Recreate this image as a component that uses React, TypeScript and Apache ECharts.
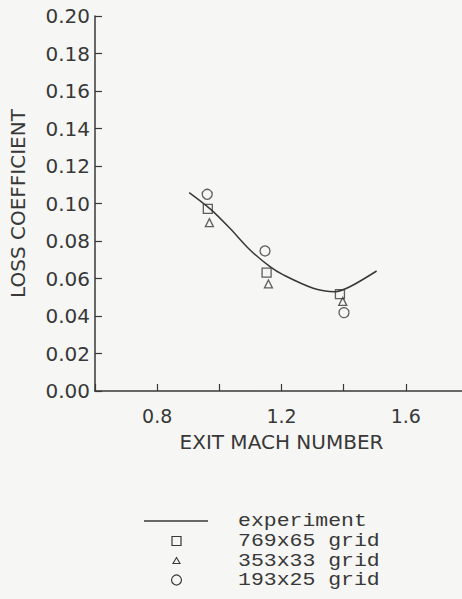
import React, { useEffect, useRef } from "react";
import * as echarts from "echarts";

const experimentMach = [0.903, 0.975, 1.034, 1.099, 1.163, 1.206, 1.302, 1.372, 1.42, 1.506];
const experimentLoss = [0.1058, 0.0965, 0.0868, 0.0752, 0.0663, 0.0619, 0.0548, 0.053, 0.0556, 0.064];

const gridFineMach = [0.963, 1.152, 1.388];
const gridFineLoss = [0.0971, 0.0631, 0.0517];

const gridMidMach = [0.968, 1.158, 1.397];
const gridMidLoss = [0.0898, 0.0571, 0.0478];

const gridCoarseMach = [0.961, 1.147, 1.401];
const gridCoarseLoss = [0.1049, 0.0747, 0.0418];

const xTickLabels = ["0.8", "1.2", "1.6"];
const legendLabels = ["experiment", "769x65 grid", "353x33 grid", "193x25 grid"];

const INK = "#383838";
const SANS = "DejaVu Sans";
const MONO = "Liberation Mono";

const zip = (xs: number[], ys: number[]) => xs.map((x, i) => [x, ys[i]]);

export default function App() {
  const ref = useRef<HTMLDivElement>(null);
  useEffect(() => {
    if (!ref.current) return;
    const chart = echarts.init(ref.current, null, { renderer: "svg" });
    const hollow = { color: "rgba(0,0,0,0)", borderColor: INK, borderWidth: 1.3 };
    const legendY = [521, 541, 561, 580];
    chart.setOption({
      animation: false,
      backgroundColor: "#f6f6f5",
      grid: { left: 95, right: -6, top: 16, bottom: 208, outerBoundsMode: "none" },
      xAxis: {
        type: "value",
        min: 0.6,
        max: 1.8,
        interval: 0.2,
        name: "EXIT MACH NUMBER",
        nameLocation: "middle",
        nameGap: 41,
        nameTextStyle: { fontFamily: SANS, fontSize: 20, color: INK },
        axisLine: { lineStyle: { color: INK, width: 1.5 } },
        axisTick: { inside: true, length: 7, lineStyle: { color: INK, width: 1.2 } },
        splitLine: { show: false },
        axisLabel: {
          margin: 15,
          fontFamily: SANS,
          fontSize: 19,
          color: INK,
          showMinLabel: true,
          showMaxLabel: true,
          formatter: (v: number) => {
            const s = v.toFixed(1);
            return xTickLabels.includes(s) ? s : "";
          },
        },
      },
      yAxis: {
        type: "value",
        min: 0,
        max: 0.2,
        interval: 0.02,
        name: "LOSS COEFFICIENT",
        nameLocation: "middle",
        nameGap: 67,
        nameTextStyle: { fontFamily: SANS, fontSize: 20, color: INK },
        axisLine: { show: true, lineStyle: { color: INK, width: 1.5 } },
        axisTick: { show: true, inside: true, length: 7, lineStyle: { color: INK, width: 1.2 } },
        splitLine: { show: false },
        axisLabel: {
          margin: 5,
          fontFamily: SANS,
          fontSize: 20,
          color: INK,
          formatter: (v: number) => v.toFixed(2),
        },
      },
      series: [
        {
          name: legendLabels[0],
          type: "line",
          smooth: 0.3,
          showSymbol: false,
          data: zip(experimentMach, experimentLoss),
          lineStyle: { color: INK, width: 1.5 },
        },
        {
          name: legendLabels[1],
          type: "scatter",
          symbol: "rect",
          symbolSize: 9,
          data: zip(gridFineMach, gridFineLoss),
          itemStyle: hollow,
        },
        {
          name: legendLabels[2],
          type: "scatter",
          symbol: "triangle",
          symbolSize: 8,
          data: zip(gridMidMach, gridMidLoss),
          itemStyle: hollow,
        },
        {
          name: legendLabels[3],
          type: "scatter",
          symbol: "circle",
          symbolSize: 10,
          data: zip(gridCoarseMach, gridCoarseLoss),
          itemStyle: hollow,
        },
      ],
      graphic: [
        {
          type: "line",
          shape: { x1: 144, y1: legendY[0], x2: 208, y2: legendY[0] },
          style: { stroke: INK, lineWidth: 1.5 },
        },
        {
          type: "rect",
          shape: { x: 172, y: legendY[1] - 4.5, width: 9, height: 9 },
          style: { fill: "none", stroke: INK, lineWidth: 1.2 },
        },
        {
          type: "polygon",
          shape: { points: [[176.5, legendY[2] - 3.5], [180, legendY[2] + 2.5], [173, legendY[2] + 2.5]] },
          style: { fill: "none", stroke: INK, lineWidth: 1.1 },
        },
        {
          type: "circle",
          shape: { cx: 176.5, cy: legendY[3], r: 5 },
          style: { fill: "none", stroke: INK, lineWidth: 1.2 },
        },
        ...legendLabels.map((t, i) => ({
          type: "text",
          x: 238,
          y: legendY[i],
          scaleX: 1.13,
          style: {
            text: t,
            fontFamily: MONO,
            fontSize: 19,
            fill: INK,
            verticalAlign: "middle",
            align: "left",
          },
        })),
      ],
    });
    return () => chart.dispose();
  }, []);
  return (
    <div
      ref={ref}
      style={{ position: "absolute", left: 0, top: 0, width: 462, height: 599 }}
    />
  );
}
